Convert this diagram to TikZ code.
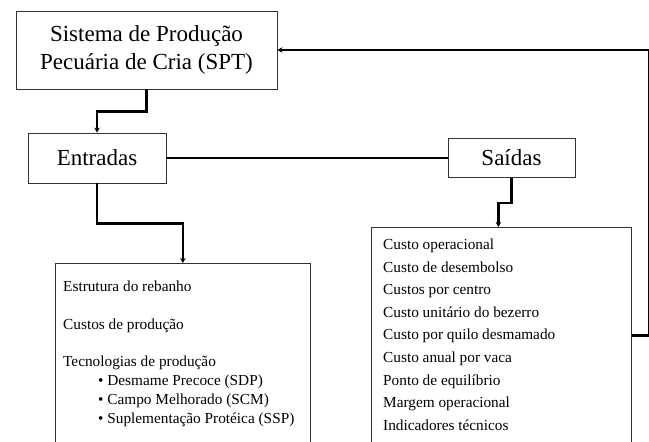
\documentclass[tikz,border=0pt]{standalone}
\usepackage{fontspec}
\setmainfont{Liberation Serif}
\usetikzlibrary{arrows.meta}

\begin{document}
\begin{tikzpicture}[x=1pt,y=-1pt,
  box/.style={draw=black!80,line width=0.8pt,inner sep=0pt,align=center,
    font=\fontsize{23}{28}\selectfont},
  lista/.style={draw=black!80,line width=0.8pt,inner sep=0pt,anchor=north west},
  texto/.style={inner sep=0pt,anchor=north west,align=left},
  conn/.style={line width=2.5pt,-{Stealth[length=5pt,width=5.5pt]}}]
\clip (0,0) rectangle (649,442);

\node [box,minimum width=261pt,minimum height=78pt] (spt) at (146.5,50)
  {Sistema de Produção\\Pecuária de Cria (SPT)};
\node [box,minimum width=138pt,minimum height=50pt] (entradas) at (97,158) {Entradas};
\node [box,minimum width=127pt,minimum height=39pt] (saidas) at (511.5,158) {Saídas};

\node [lista,minimum width=255pt,minimum height=190pt] (insumos) at (55,263) {};
\node [lista,minimum width=260pt,minimum height=216pt] (resultados) at (371,227) {};

\node [texto,font=\fontsize{15.3}{19}\selectfont] (insumostxt)
  at ([shift={(8,17.7)}]insumos.north west)
  {Estrutura do rebanho\\[18.5pt]
   Custos de produção\\[18.5pt]
   Tecnologias de produção\\
   \hspace{35pt}\textbullet\ Desmame Precoce (SDP)\\
   \hspace{35pt}\textbullet\ Campo Melhorado (SCM)\\
   \hspace{35pt}\textbullet\ Suplementação Protéica (SSP)};
\node [texto,font=\fontsize{15.3}{22.6}\selectfont] (resultadostxt)
  at ([shift={(12,11.7)}]resultados.north west)
  {Custo operacional\\
   Custo de desembolso\\
   Custos por centro\\
   Custo unitário do bezerro\\
   Custo por quilo desmamado\\
   Custo anual por vaca\\
   Ponto de equilíbrio\\
   Margem operacional\\
   Indicadores técnicos};

% ligacoes
\draw [conn] (spt.south) -- ++(0,22) -| (entradas.north);
\draw [conn] (entradas.south) -- ++(0,40) -| (insumos.north);
\draw [line width=2.2pt] (entradas.east) -- (saidas.west);
\draw [conn] (saidas.south) -- ++(0,25) -| ([xshift=-3pt]resultados.north);
\draw [conn] (resultados.east) -- ++(17,0) |- (spt.east);
\end{tikzpicture}
\end{document}
